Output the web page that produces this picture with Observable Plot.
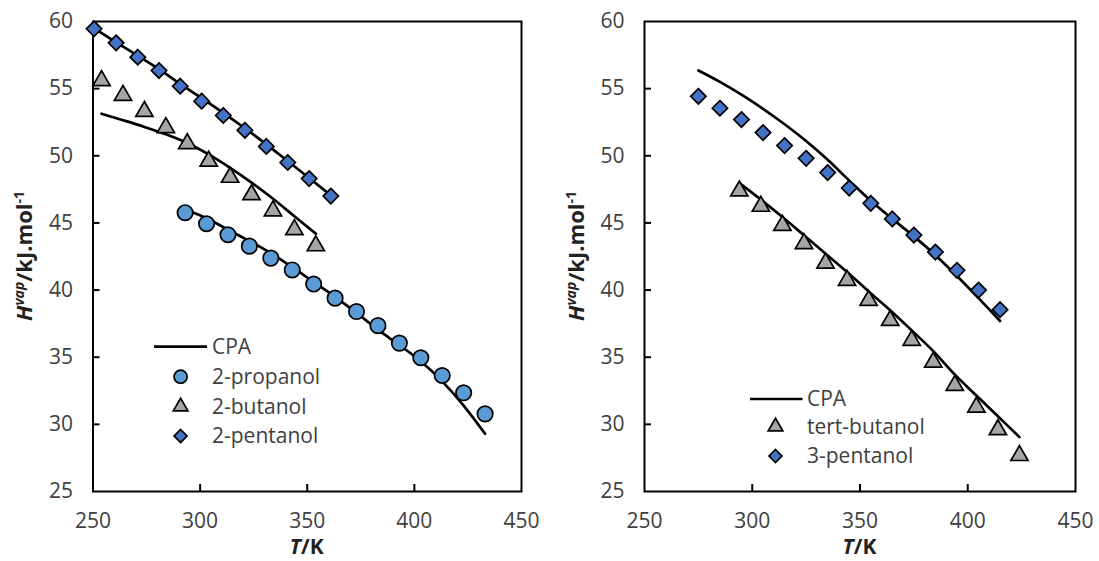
<!DOCTYPE html>
<html><head><meta charset="utf-8">
<script src="https://cdn.jsdelivr.net/npm/d3@7"></script>
<script src="https://cdn.jsdelivr.net/npm/@observablehq/plot@0.6"></script>
<style>
body{margin:0;background:#fff;}
#wrap{display:flex;width:1099px;height:561px;}
svg{display:block}
</style></head><body><div id="wrap"></div>
<script>
// axis ticks
const xTickLabels = [250, 300, 350, 400, 450];
const xInnerTicks = [300, 350, 400];
const yTickLabels = [25, 30, 35, 40, 45, 50, 55, 60];
const yInnerTicks = [30, 35, 40, 45, 50, 55];

// left panel: experimental data
const propanolT = [293, 303, 313, 323, 333, 343, 353, 363, 373, 383, 393, 403, 413, 423, 433];
const propanolH = [45.76, 44.94, 44.12, 43.27, 42.38, 41.50, 40.45, 39.40, 38.40, 37.35, 36.05, 34.96, 33.64, 32.35, 30.78];
const butanolT = [254, 264, 274, 284, 294, 304, 314, 324, 334, 344, 354];
const butanolH = [55.6, 54.5, 53.3, 52.1, 50.9, 49.6, 48.4, 47.1, 45.9, 44.5, 43.3];
const pentanol2T = [250.5, 260.8, 270.9, 280.8, 290.7, 300.7, 310.8, 320.9, 330.9, 340.9, 350.9, 361];
const pentanol2H = [59.46, 58.41, 57.34, 56.35, 55.18, 54.07, 53.0, 51.9, 50.7, 49.5, 48.3, 47.0];
// left panel: CPA
const propanolCpaT = [293, 303, 313, 323, 333, 343, 353, 363, 373, 383, 393, 403, 413, 423, 433];
const propanolCpaH = [46.0, 45.35, 44.5, 43.65, 42.75, 41.7, 40.6, 39.5, 38.3, 37.05, 35.9, 34.7, 33.2, 31.4, 29.3];
const butanolCpaT = [254, 264, 274, 284, 294, 304, 314, 324, 334, 344, 354];
const butanolCpaH = [53.13, 52.65, 52.15, 51.6, 50.95, 50.1, 49.1, 48.0, 46.8, 45.5, 44.2];
const pentanol2CpaT = [250.5, 260.8, 270.9, 280.8, 290.7, 300.7, 310.8, 320.9, 330.9, 340.9, 350.9, 361];
const pentanol2CpaH = [59.5, 58.45, 57.45, 56.45, 55.35, 54.3, 53.2, 52.05, 50.85, 49.6, 48.35, 47.05];

// right panel: experimental data
const tertT = [294, 304, 314, 324, 334, 344, 354, 364, 374, 384, 394, 404, 414, 424];
const tertH = [47.38, 46.24, 44.82, 43.46, 42.01, 40.72, 39.23, 37.74, 36.25, 34.63, 32.9, 31.28, 29.6, 27.68];
const pentanol3T = [275, 285, 295, 305, 315, 325, 335, 345, 355, 365, 375, 385, 395, 405, 415];
const pentanol3H = [54.43, 53.54, 52.7, 51.73, 50.76, 49.81, 48.75, 47.6, 46.46, 45.3, 44.1, 42.83, 41.47, 40.0, 38.54];
// right panel: CPA
const tertCpaT = [294, 304, 314, 324, 334, 344, 354, 364, 374, 384, 394, 404, 414, 424];
const tertCpaH = [47.97, 46.74, 45.44, 44.08, 42.71, 41.34, 39.9, 38.5, 37.0, 35.45, 33.7, 32.15, 30.6, 29.05];
const pentanol3CpaT = [275, 285, 295, 305, 315, 325, 335, 345, 355, 365, 375, 385, 395, 405, 415];
const pentanol3CpaH = [56.35, 55.5, 54.55, 53.5, 52.35, 51.1, 49.7, 48.15, 46.65, 45.3, 44.0, 42.6, 41.05, 39.4, 37.7];

const leftLegend = ["CPA", "2-propanol", "2-butanol", "2-pentanol"];
const rightLegend = ["CPA", "tert-butanol", "3-pentanol"];

const C_CIRCLE = "#5B9BD5", C_TRI = "#A5A5A5", C_DIA = "#4472C4";
const SYM = {
  circle: {sym: "circle", r: 7.7, fill: C_CIRCLE},
  triangle: {sym: "triangle", r: 6.4, fill: C_TRI},
  diamond: {sym: "diamond2", r: 6.9, fill: C_DIA}
};
const zip = (T, H) => T.map((t, i) => ({t, h: H[i]}));
const H = 561, MT = 21, MB = 70;
const FONT = "'Open Sans', sans-serif";

function panel(o) {
  const fw = o.width - o.ml - o.mr, fh = H - MT - MB;
  const marks = [
    Plot.frame({stroke: "#000", strokeWidth: 2}),
    Plot.tickX(xInnerTicks, {x: d => d, stroke: "#000", strokeWidth: 2, insetTop: fh - 7}),
    Plot.tickY(yInnerTicks, {y: d => d, stroke: "#000", strokeWidth: 2, insetRight: fw - 7}),
    Plot.axisX(xTickLabels, {tickSize: 0, tickPadding: 22, label: null, fontSize: 21}),
    Plot.axisY(yTickLabels, {tickSize: 0, tickPadding: 20, label: null, fontSize: 21}),
    ...o.lines.map(l => Plot.line(zip(l[0], l[1]), {x: "t", y: "h", stroke: "#000", strokeWidth: 2.7, curve: "monotone-x"})),
    ...o.series.map(s => {
      const m = SYM[s.kind];
      return Plot.dot(zip(s.T, s.H), {x: "t", y: "h", symbol: m.sym, r: m.r, fill: m.fill, stroke: "#000", strokeWidth: 1.7});
    })
  ];
  const svg = Plot.plot({
    width: o.width, height: H, marginTop: MT, marginBottom: MB, marginLeft: o.ml, marginRight: o.mr,
    x: {domain: [250, 450]}, y: {domain: [25, 60]},
    style: {fontFamily: FONT, fontSize: "21px", color: "#404040", background: "white", overflow: "visible"},
    marks
  });
  const s = d3.select(svg);
  // x title
  const cx = o.ml + fw / 2;
  const xt = s.append("text").attr("x", cx).attr("y", 554).attr("text-anchor", "middle")
    .attr("font-family", FONT).attr("font-size", 21).attr("font-weight", "bold").attr("fill", "#222");
  xt.append("tspan").attr("font-style", "italic").text("T");
  xt.append("tspan").text("/K");
  // y title
  const yt = s.append("text").attr("transform", `translate(${o.ytx},${MT + fh / 2}) rotate(-90)`)
    .attr("text-anchor", "middle").attr("font-family", FONT).attr("font-size", 22)
    .attr("font-weight", "bold").attr("fill", "#222");
  yt.append("tspan").attr("font-style", "italic").text("H");
  yt.append("tspan").attr("font-style", "italic").attr("font-size", 14).attr("dy", -8).text("vap");
  yt.append("tspan").attr("dy", 8).text("/kJ.mol");
  yt.append("tspan").attr("font-size", 14).attr("dy", -8).text("-1");
  // legend
  const L = o.legend;
  const g = s.append("g").attr("font-family", FONT).attr("font-size", 21).attr("fill", "#404040")
    .attr("text-anchor", "start");
  L.items.forEach((it, i) => {
    const y = L.ys[i];
    if (it.kind === "line") {
      g.append("line").attr("x1", L.lx1).attr("x2", L.lx2).attr("y1", y).attr("y2", y)
        .attr("stroke", "#000").attr("stroke-width", 2.7);
    } else {
      const m = SYM[it.kind];
      const symType = {circle: d3.symbolCircle, triangle: d3.symbolTriangle, diamond2: d3.symbolDiamond2}[m.sym];
      const rr = m.r * 0.85;
      g.append("path").attr("transform", `translate(${L.mx},${y})`)
        .attr("d", d3.symbol(symType, Math.PI * rr * rr)())
        .attr("fill", m.fill).attr("stroke", "#000").attr("stroke-width", 1.7);
    }
    g.append("text").attr("x", L.tx).attr("y", y).attr("dy", "0.35em").attr("text-anchor", "start").text(it.label);
  });
  return svg;
}

const wrap = document.getElementById("wrap");
wrap.appendChild(panel({
  width: 550, ml: 92.5, mr: 29, ytx: 31.5,
  lines: [[propanolCpaT, propanolCpaH], [butanolCpaT, butanolCpaH], [pentanol2CpaT, pentanol2CpaH]],
  series: [
    {kind: "circle", T: propanolT, H: propanolH},
    {kind: "triangle", T: butanolT, H: butanolH},
    {kind: "diamond", T: pentanol2T, H: pentanol2H}
  ],
  legend: {
    lx1: 154, lx2: 207, mx: 180.6, tx: 212, ys: [346.7, 376.7, 406.7, 436],
    items: [
      {kind: "line", label: leftLegend[0]},
      {kind: "circle", label: leftLegend[1]},
      {kind: "triangle", label: leftLegend[2]},
      {kind: "diamond", label: leftLegend[3]}
    ]
  }
}));
wrap.appendChild(panel({
  width: 549, ml: 94, mr: 24, ytx: 33.5,
  lines: [[tertCpaT, tertCpaH], [pentanol3CpaT, pentanol3CpaH]],
  series: [
    {kind: "triangle", T: tertT, H: tertH},
    {kind: "diamond", T: pentanol3T, H: pentanol3H}
  ],
  legend: {
    lx1: 200, lx2: 252.5, mx: 225.5, tx: 257, ys: [399, 426.7, 456],
    items: [
      {kind: "line", label: rightLegend[0]},
      {kind: "triangle", label: rightLegend[1]},
      {kind: "diamond", label: rightLegend[2]}
    ]
  }
}));
</script></body></html>
